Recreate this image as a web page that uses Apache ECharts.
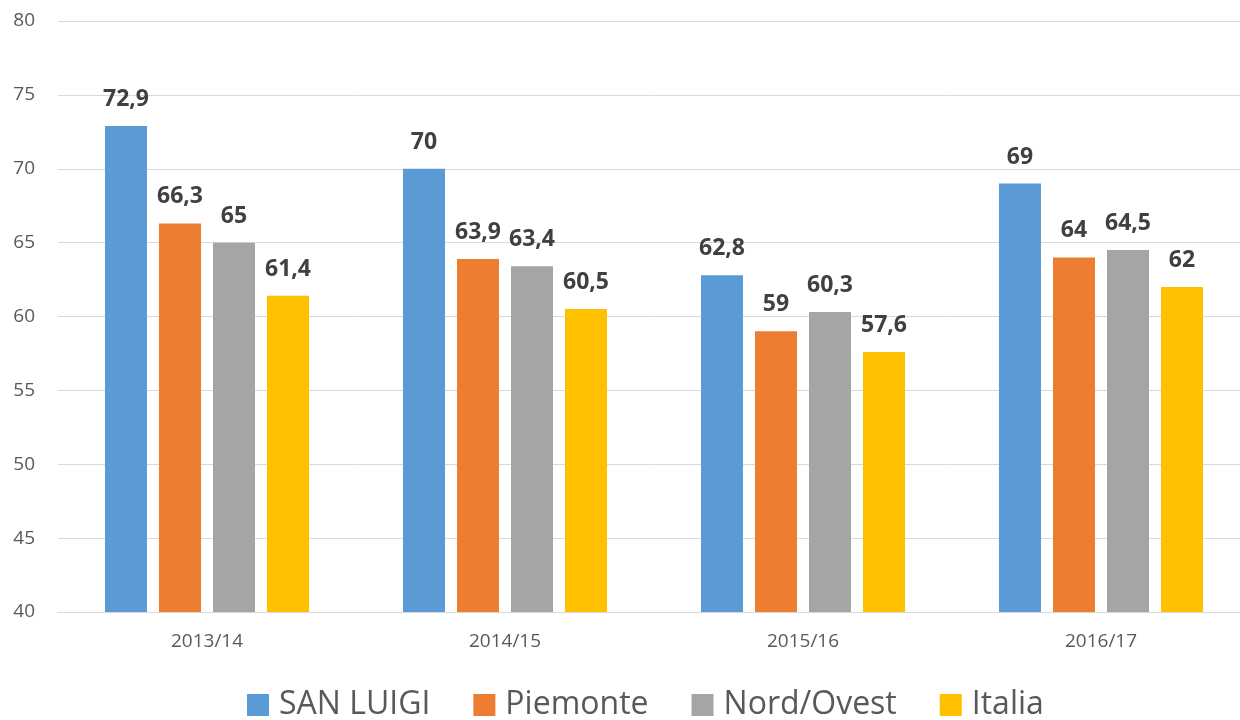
<!DOCTYPE html>
<html>
<head>
<meta charset="utf-8">
<script src="https://cdn.jsdelivr.net/npm/echarts@6/dist/echarts.min.js"></script>
<style>
  html, body { margin: 0; padding: 0; background: #fff; }
  #chart { width: 1240px; height: 720px; }
</style>
</head>
<body>
<div id="chart"></div>
<script>
const categories = ['2013/14', '2014/15', '2015/16', '2016/17']
const seriesNames = ['SAN LUIGI', 'Piemonte', 'Nord/Ovest', 'Italia']
const sanLuigi = [72.9, 70, 62.8, 69]
const piemonte = [66.3, 63.9, 59, 64]
const nordOvest = [65, 63.4, 60.3, 64.5]
const italia = [61.4, 60.5, 57.6, 62]
const colors = ['#5b9bd5', '#ed7d31', '#a5a5a5', '#ffc000']

const font = '"Open Sans", "Noto Sans", sans-serif'
const values = [sanLuigi, piemonte, nordOvest, italia]

const chart = echarts.init(document.getElementById('chart'))
chart.setOption({
  animation: false,
  textStyle: { fontFamily: font },
  grid: { left: 58, right: -10, top: 21, bottom: 108, outerBoundsMode: 'none', containLabel: false },
  legend: {
    bottom: -6,
    left: 242,
    itemWidth: 22,
    itemHeight: 22,
    itemGap: 43,
    icon: 'rect',
    textStyle: { fontSize: 32, color: '#595959', fontFamily: font, padding: [0, 0, 0, 5] },
    data: seriesNames
  },
  xAxis: {
    type: 'category',
    data: categories,
    axisLine: { lineStyle: { color: '#d9d9d9', width: 1 } },
    axisTick: { show: false },
    axisLabel: { fontSize: 19, color: '#595959', margin: 20 }
  },
  yAxis: {
    type: 'value',
    min: 40,
    max: 80,
    interval: 5,
    axisLine: { show: false },
    axisTick: { show: false },
    splitLine: { lineStyle: { color: '#d9d9d9', width: 1 } },
    axisLabel: { fontSize: 19, color: '#595959', margin: 23 }
  },
  series: seriesNames.map((name, i) => ({
    name: name,
    type: 'bar',
    data: values[i],
    barWidth: 42,
    barGap: '28.6%',
    itemStyle: { color: colors[i] },
    label: {
      show: true,
      position: 'top',
      distance: 15,
      fontSize: 23,
      fontWeight: 'bold',
      color: '#404040',
      formatter: p => String(p.value).replace('.', ',')
    }
  }))
})
</script>
</body>
</html>
